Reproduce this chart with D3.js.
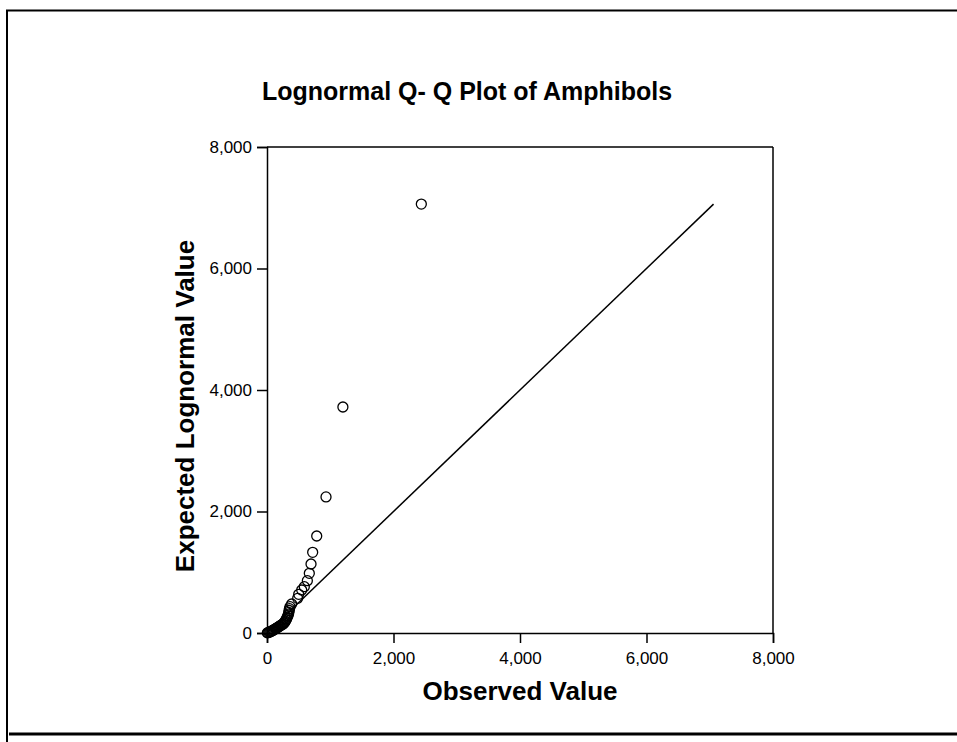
<!DOCTYPE html>
<html><head><meta charset="utf-8">
<script src="https://cdn.jsdelivr.net/npm/d3@7"></script>
<style>body{margin:0;background:#fff}svg{display:block}text{font-family:"Liberation Sans",Arial,sans-serif}</style>
</head><body>
<script>
const observed = [2440,1200,933,786,722,696,669,638,590,549,501,485,390,364,355,350,345,340,330,320,310,300,290,280,270,255,240,225,210,195,180,165,150,135,120,105,90,75,60,45,30,15,5];
const expected = [7060,3720,2240,1597,1328,1136,982,861,762,708,637,571,477,433,400,370,340,310,285,260,235,215,195,180,165,150,140,130,120,110,100,90,80,70,60,50,42,34,26,18,11,6,2];
const refLine = [0,7060];
const xTicks = [0,2000,4000,6000,8000];
const yTicks = [0,2000,4000,6000,8000];
const title = "Lognormal Q- Q Plot of Amphibols";
const xTitle = "Observed Value";
const yTitle = "Expected Lognormal Value";

const W=957,H=742;
const svg=d3.select("body").append("svg").attr("width",W).attr("height",H);
// frame
svg.append("line").attr("x1",6).attr("x2",W).attr("y1",10.5).attr("y2",10.5).attr("stroke","#000").attr("stroke-width",2);
svg.append("line").attr("x1",7).attr("x2",7).attr("y1",10).attr("y2",H).attr("stroke","#000").attr("stroke-width",2);
svg.append("line").attr("x1",9).attr("x2",W).attr("y1",734).attr("y2",734).attr("stroke","#000").attr("stroke-width",3);

const x=d3.scaleLinear().domain([0,8000]).range([267,773]);
const y=d3.scaleLinear().domain([0,8000]).range([633,147]);
const fmt=d3.format(",");
const xa=svg.append("g").attr("transform","translate(0,633)").call(d3.axisBottom(x).tickValues(xTicks).tickFormat(fmt).tickSizeOuter(0).tickSize(10));
const ya=svg.append("g").attr("transform","translate(267,0)").call(d3.axisLeft(y).tickValues(yTicks).tickFormat(fmt).tickSizeOuter(0).tickSize(10));
[xa,ya].forEach(a=>{a.select(".domain").attr("stroke-width",1.5);a.selectAll(".tick line").attr("stroke-width",1.5);a.selectAll("text").attr("font-size",17).attr("font-family","Liberation Sans, Arial").attr("fill","#000");});
xa.selectAll("text").attr("dy","1.05em");
ya.selectAll("text").attr("dx","-2");
// top and right frame of plot
svg.append("line").attr("x1",x(0)).attr("x2",x(8000)).attr("y1",y(8000)).attr("y2",y(8000)).attr("stroke","#000").attr("stroke-width",1.5);
svg.append("line").attr("x1",x(8000)).attr("x2",x(8000)).attr("y1",y(0)).attr("y2",y(8000)).attr("stroke","#000").attr("stroke-width",1.5);

// reference line
svg.append("line").attr("x1",x(refLine[0])).attr("y1",y(refLine[0])).attr("x2",x(refLine[1])).attr("y2",y(refLine[1])).attr("stroke","#000").attr("stroke-width",1.5);

svg.append("g").selectAll("circle").data(observed.map((o,i)=>[o,expected[i]])).join("circle")
  .attr("cx",d=>x(d[0])).attr("cy",d=>y(d[1])).attr("r",5).attr("fill","none").attr("stroke","#000").attr("stroke-width",1.3);

svg.append("text").attr("x",467).attr("y",100).attr("text-anchor","middle").attr("font-weight","bold").attr("font-size",25).text(title);
svg.append("text").attr("x",520).attr("y",700).attr("text-anchor","middle").attr("font-weight","bold").attr("font-size",26).text(xTitle);
svg.append("text").attr("transform","translate(194,406) rotate(-90)").attr("text-anchor","middle").attr("font-weight","bold").attr("font-size",26).text(yTitle);
</script>
</body></html>
